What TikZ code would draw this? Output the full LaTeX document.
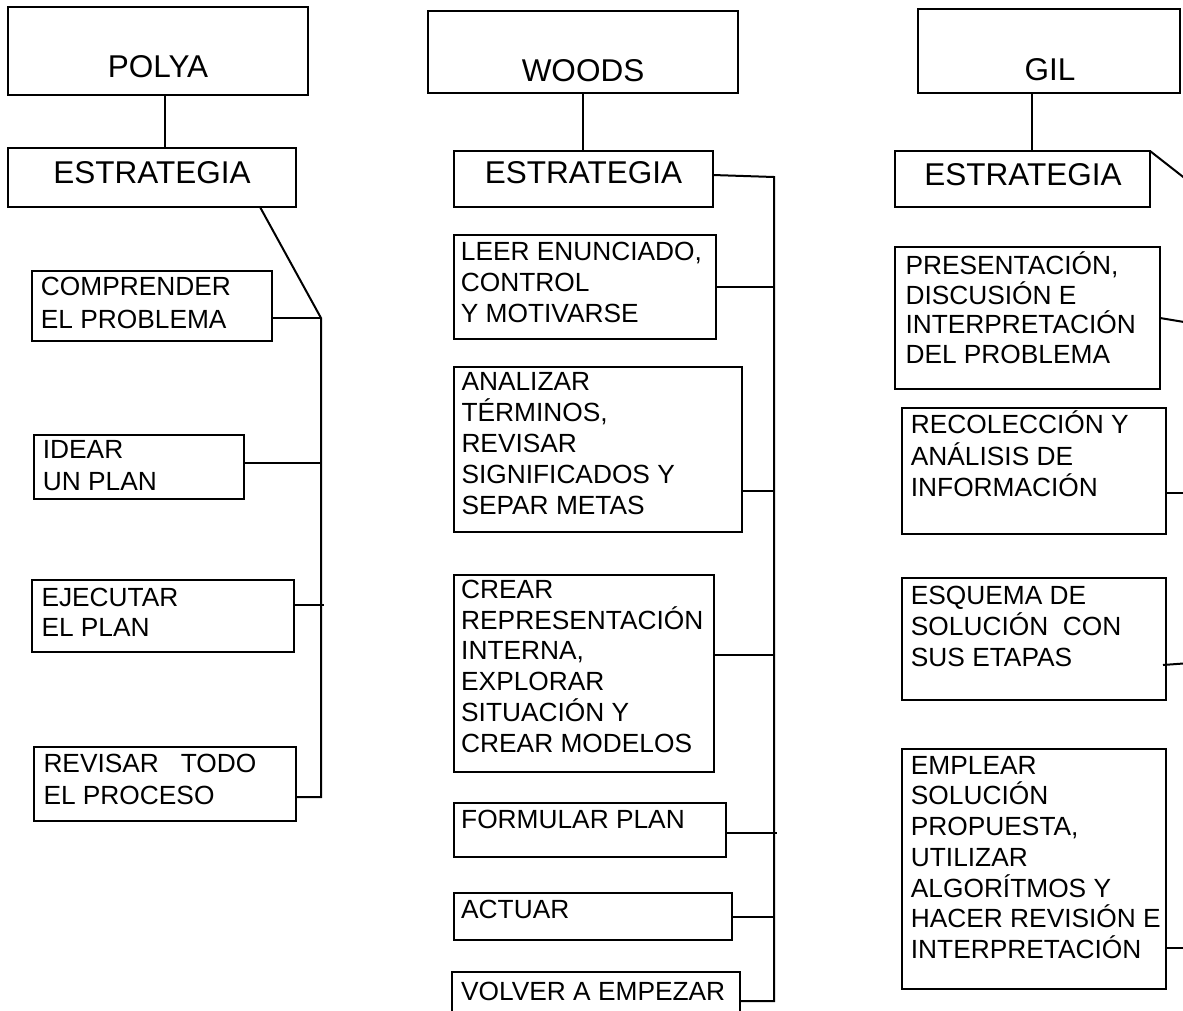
\documentclass[tikz,border=0pt]{standalone}
\usepackage{fontspec}
\setmainfont{Liberation Sans}
\newcommand\fstr{\rule{0pt}{24pt}}
\begin{document}
\begin{tikzpicture}[x=1pt,y=-1pt,
  box/.style={draw, line width=2.2pt, anchor=north west, inner sep=0pt, outer sep=0pt},
  conn/.style={line width=2pt},
  ttl/.style={anchor=base, inner sep=0pt, font=\fontsize{31.5}{37}\selectfont},
  txt/.style={anchor=north west, inner sep=0pt, align=left, font=\fontsize{26.3}{#1}\selectfont},
  txt/.default=31]
\useasboundingbox (0,0) rectangle (1183,1010);

% ---------------- POLYA ----------------
\node[box, minimum width=300, minimum height=88] (P0) at (8,7) {};
\node[ttl] (P0t) at (158,77) {POLYA};
\node[box, minimum width=288, minimum height=59] (P1) at (8,148) {};
\node[ttl] (P1t) at (152,183) {ESTRATEGIA};
\node[box, minimum width=240, minimum height=70] (C1) at (32,271) {};
\node[txt=33] (C1t) at (40.7,271) {\fstr COMPRENDER\\EL PROBLEMA};
\node[box, minimum width=210, minimum height=64] (C2) at (34,435) {};
\node[txt=32.4] (C2t) at (42.7,434.3) {\fstr IDEAR\\UN PLAN};
\node[box, minimum width=262, minimum height=72] (C3) at (32,580) {};
\node[txt=30.7] (C3t) at (41.3,582) {\fstr EJECUTAR\\EL PLAN};
\node[box, minimum width=262, minimum height=74] (C4) at (34,747) {};
\node[txt=32] (C4t) at (43.3,748) {\fstr REVISAR~~~TODO\\EL PROCESO};

\coordinate (Pj) at (321,318);
\coordinate (Pb) at (321,797);
\draw[conn] ([xshift=7pt]P0.south) -- ([xshift=7pt]P0.south |- P1.north);
\draw[conn] ([xshift=108pt]P1.south) -- (Pj) -- (Pb) -- (C4.east |- Pb);
\draw[conn] (C1.east |- Pj) -- (Pj);
\draw[conn] ([yshift=4pt]C2.east) -- ([yshift=4pt]C2.east -| Pj);
\draw[conn] ([yshift=11pt]C3.east) -- ([yshift=11pt,xshift=3pt]C3.east -| Pj);

% ---------------- WOODS ----------------
\node[box, minimum width=310, minimum height=82] (W0) at (428,11) {};
\node[ttl] (W0t) at (583,81) {WOODS};
\node[box, minimum width=259, minimum height=56] (W1) at (454,151) {};
\node[ttl] (W1t) at (583.5,183) {ESTRATEGIA};
\node[box, minimum width=262, minimum height=104] (W2) at (454,235) {};
\node[txt=31.3] (W2t) at (460.7,236) {\fstr LEER ENUNCIADO,\\CONTROL\\Y MOTIVARSE};
\node[box, minimum width=288, minimum height=165] (W3) at (454,367) {};
\node[txt=31] (W3t) at (461.3,366.7) {\fstr ANALIZAR\\TÉRMINOS,\\REVISAR\\SIGNIFICADOS Y\\SEPAR METAS};
\node[box, minimum width=260, minimum height=197] (W4) at (454,575) {};
\node[txt=30.7] (W4t) at (461,574.3) {\fstr CREAR\\REPRESENTACIÓN\\INTERNA,\\EXPLORAR\\SITUACIÓN Y\\CREAR MODELOS};
\node[box, minimum width=272, minimum height=54] (W5) at (454,803) {};
\node[txt] (W5t) at (461,804.3) {\fstr FORMULAR PLAN};
\node[box, minimum width=278, minimum height=47] (W6) at (454,893) {};
\node[txt] (W6t) at (461,894.3) {\fstr ACTUAR};
\node[box, minimum width=288, minimum height=50] (W7) at (452,972) {};
\node[txt] (W7t) at (461,976) {\fstr VOLVER A EMPEZAR};

\coordinate (Wt) at (774,177);
\coordinate (Wb) at (774,1001);
\draw[conn] (W0.south) -- (W0.south |- W1.north);
\draw[conn] ([yshift=4pt]W1.east) -- (Wt) -- (Wb) -- ([yshift=-4pt]W7.east);
\draw[conn] (W2.east) -- (W2.east -| Wt);
\draw[conn] ([yshift=-41.5pt]W3.east) -- ([yshift=-41.5pt]W3.east -| Wt);
\draw[conn] ([yshift=18.5pt]W4.east) -- ([yshift=18.5pt]W4.east -| Wt);
\draw[conn] ([yshift=-3pt]W5.east) -- ([yshift=-3pt,xshift=3pt]W5.east -| Wt);
\draw[conn] (W6.east) -- (W6.east -| Wt);

% ---------------- GIL ----------------
\node[box, minimum width=262, minimum height=84] (G0) at (918,9) {};
\node[ttl] (G0t) at (1050,80) {GIL};
\node[box, minimum width=255, minimum height=56] (G1) at (895,151) {};
\node[ttl] (G1t) at (1023,185) {ESTRATEGIA};
\node[box, minimum width=265, minimum height=142] (G2) at (895,247) {};
\node[txt=29.8] (G2t) at (905.3,250) {\fstr PRESENTACIÓN,\\DISCUSIÓN E\\INTERPRETACIÓN\\DEL PROBLEMA};
\node[box, minimum width=264, minimum height=126] (G3) at (902,408) {};
\node[txt=31.7] (G3t) at (910.7,409.3) {\fstr RECOLECCIÓN Y\\ANÁLISIS DE\\INFORMACIÓN};
\node[box, minimum width=264, minimum height=122] (G4) at (902,578) {};
\node[txt=31.3] (G4t) at (910.7,580) {\fstr ESQUEMA DE\\SOLUCIÓN~~CON\\SUS ETAPAS};
\node[box, minimum width=264, minimum height=240] (G5) at (902,749) {};
\node[txt=30.7] (G5t) at (910.7,750) {\fstr EMPLEAR\\SOLUCIÓN\\PROPUESTA,\\UTILIZAR\\ALGORÍTMOS Y\\HACER REVISIÓN E\\INTERPRETACIÓN};

\coordinate (Ge1) at (1196,187);
\coordinate (Ge2) at (1190,323);
\coordinate (Ge3) at (1190,493.3);
\coordinate (Ge4) at (1190,663);
\coordinate (Ge5) at (1190,948.3);
\draw[conn] ([xshift=-17pt]G0.south) -- ([xshift=-17pt]G0.south |- G1.north);
\draw[conn] (G1.north east) -- (Ge1);
\draw[conn] (G2.east) -- (Ge2);
\draw[conn] ([yshift=-22.3pt]G3.east) -- (Ge3);
\draw[conn] ([xshift=-3pt,yshift=-26pt]G4.east) -- (Ge4);
\draw[conn] ([yshift=-79.3pt]G5.east) -- (Ge5);
\end{tikzpicture}
\end{document}
